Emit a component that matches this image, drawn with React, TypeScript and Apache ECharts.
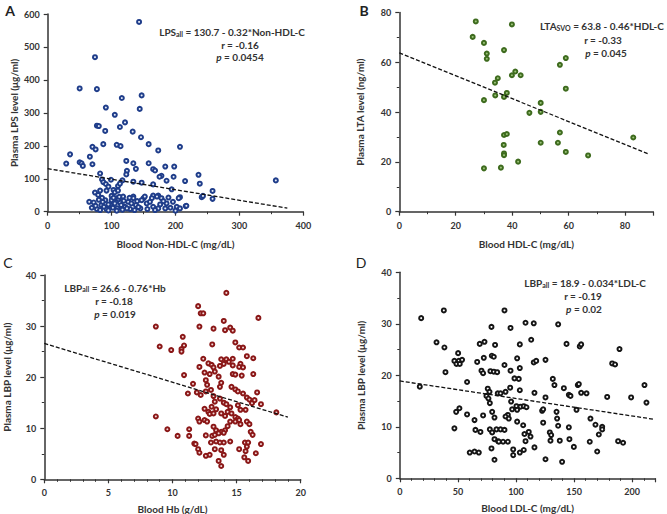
import React, { useEffect, useRef } from "react";
import * as echarts from "echarts";

// Panel A: Blood Non-HDL-C (mg/dL) vs Plasma LPS (µg/ml)
const lpsNonHdl: number[][] = [
  [143,576],[74,469],[50,374],[77,372],[116,345],[147,353],[91,316],[144,312],[105,294],[121,271],
  [77,261],[80,260],[113,257],[90,245],[133,243],[146,226],[108,203],[114,199],[87,205],[70,197],
  [75,189],[66,167],[158,205],[173,186],[207,197],[35,174],[29,146],[50,150],[53,147],[55,139],
  [70,144],[123,154],[134,147],[138,130],[158,147],[82,116],[165,129],[168,125],[184,137],[198,137],
  [124,124],[123,113],[178,109],[175,106],[197,106],[215,93],[236,112],[238,85],[186,94],[165,83],
  [147,88],[134,91],[117,95],[85,98],[87,90],[91,84],[95,76],[110,78],[82,64],[92,64],
  [103,66],[105,59],[110,64],[194,68],[173,49],[165,49],[150,41],[134,46],[74,58],[79,51],
  [258,63],[241,44],[243,48],[258,39],[207,44],[216,17],[357,95],[99,97],[113,85],
  [65,30],[69,12],[77,8],[84,20],[90,35],[92,8],[98,20],[107,41],[109,10],[113,28],
  [118,46],[121,15],[126,30],[129,8],[134,41],[138,20],[145,10],[147,35],[152,46],[155,25],
  [163,41],[165,15],[171,46],[173,10],[178,41],[184,10],[186,25],[189,43],[202,15],[205,41],
  [207,10],[217,18],[72,28],[75,18],[82,5],[86,30],[88,15],[95,4],[100,35],[102,12],
  [105,25],[108,3],[111,38],[115,20],[117,6],[119,33],[124,10],[128,42],[131,25],[136,5],
  [140,32],[142,14],[100,48],[95,22],[160,30],[168,5],[176,22],[181,32],[192,12],[196,30],
  [200,3],[156,8],[112,45],[103,42],[85,42],[80,36]
];

// Panel B: Blood HDL-C (mg/dL) vs Plasma LTA (ng/ml)
const ltaHdl: number[][] = [
  [27.1,76.4],[26.0,70.2],[30.0,67.8],[31.0,63.5],[31.0,61.4],[34.9,53.6],[33.9,51.8],[34.0,46.7],
  [30.0,44.8],[30.0,17.4],[36.0,17.7],[39.9,75.2],[37.1,64.9],[56.9,59.0],[59.0,61.7],[59.0,49.4],
  [39.9,54.8],[41.1,56.3],[43.0,54.8],[38.1,47.7],[37.1,46.1],[50.1,43.7],[50.1,40.1],[46.1,39.7],
  [56.9,31.8],[56.2,27.7],[50.1,27.7],[37.1,30.8],[38.1,31.2],[37.0,26.8],[37.1,23.4],[37.1,22.7],
  [42.1,20.1],[59.0,24.0],[66.9,22.6],[82.9,29.8]
];

// Panel C: Blood Hb (g/dL) vs Plasma LBP (µg/ml)
const lbpHb: number[][] = [
  [8.7,29.9],[9.0,26.0],[9.9,25.3],[10.8,27.9],[10.9,26.2],[10.7,25.5],[10.7,25.0],[10.9,20.4],
  [11.6,18.7],[11.2,16.8],[8.7,12.3],[9.6,9.8],[10.4,8.5],[11.3,9.8],[11.3,8.5],
  [14.2,36.5],[12.0,33.9],[12.2,32.5],[12.4,32.5],[16.7,31.6],[12.1,29.9],[14.0,31.0],[13.2,29.5],
  [14.1,29.2],[14.5,29.7],[14.7,29.1],[13.1,26.4],[14.9,26.8],[15.2,25.8],[15.5,25.8],[15.8,24.1],
  [16.3,23.7],[12.4,23.6],[13.8,23.5],[14.2,23.5],[14.7,23.6],[14.4,23.0],[12.8,22.7],[13.05,22.4],
  [13.2,21.9],[12.1,22.0],[13.7,22.2],[14.0,22.6],[14.7,22.3],[15.3,22.6],[15.2,22.0],[15.5,21.9],
  [12.5,20.9],[12.9,20.6],[13.3,21.1],[16.3,20.6],[14.7,20.6],[14.9,20.5],[15.4,20.3],[12.6,19.4],
  [12.7,18.5],[13.6,20.1],[13.7,18.1],[13.8,18.9],[11.9,17.0],[12.2,16.5],[12.6,17.2],[13.0,17.5],
  [13.2,16.3],[14.6,18.1],[14.9,17.6],[15.1,17.2],[15.5,16.8],[15.8,16.0],[16.0,15.6],[16.2,14.9],
  [16.6,17.0],[16.9,14.7],[16.4,15.5],[13.3,15.2],[13.7,15.8],[14.0,15.0],[13.05,14.2],[13.4,13.7],
  [14.2,14.7],[14.5,14.1],[15.1,14.5],[15.3,13.6],[15.7,13.6],[12.5,13.8],[12.8,13.2],[12.9,12.8],
  [13.2,12.9],[13.8,12.9],[14.1,12.4],[14.3,13.2],[14.6,12.9],[14.9,12.2],[15.1,11.9],[12.0,11.9],
  [12.1,11.3],[12.5,11.6],[12.7,11.3],[13.2,10.3],[13.4,9.6],[13.6,9.1],[13.8,9.3],[14.1,9.6],
  [13.1,8.5],[13.3,8.7],[13.6,9.0],[14.0,9.1],[14.3,10.4],[14.5,11.3],[14.9,11.3],[15.2,11.6],
  [15.3,10.8],[15.8,11.3],[16.0,10.8],[12.6,8.6],[13.4,7.4],[13.7,7.2],[14.0,7.2],[14.5,7.4],
  [13.0,7.2],[15.65,7.2],[15.8,6.4],[15.9,7.2],[16.1,9.3],[16.25,8.7],[16.9,6.9],[11.7,7.0],
  [11.8,6.9],[12.0,5.9],[12.1,5.2],[12.6,4.6],[12.9,4.8],[13.3,5.9],[13.8,5.7],[14.0,4.8],
  [15.2,5.9],[15.7,5.5],[15.6,4.3],[15.9,3.6],[16.5,5.1],[13.6,3.6],[13.8,2.6],[18.1,13.1]
];

// Panel D: Blood LDL-C (mg/dL) vs Plasma LBP (µg/ml)
const lbpLdl: number[][] = [
  [18.4,31.1],[17.2,17.8],[37.9,32.6],[31.6,26.4],[38.4,25.4],[39.3,20.6],[50.2,24.3],[47.0,22.8],
  [50.8,22.8],[53.6,23.0],[48.8,22.2],[51.6,22.2],[57.9,18.7],[68.8,26.1],[72.9,26.5],[66.6,22.6],
  [72.3,23.4],[78.9,29.4],[79.2,23.8],[80.9,23.6],[82.0,25.9],[70.3,20.9],[71.7,20.4],[78.0,20.8],
  [80.9,20.7],[83.8,20.6],[75.7,17.4],[77.2,16.8],[74.6,16.0],[76.3,15.5],[77.5,14.6],[84.3,16.5],
  [48.5,12.9],[51.3,13.6],[57.9,12.4],[64.3,11.3],[71.7,12.2],[79.5,12.9],[81.5,11.8],[47.0,9.7],
  [65.1,9.4],[69.4,9.0],[77.5,9.5],[79.5,8.9],[83.2,9.5],[81.5,7.6],[84.6,7.2],[78.9,5.8],
  [60.2,5.0],[64.3,5.2],[68.0,5.0],[81.5,3.6],
  [90.1,32.6],[108.2,30.2],[115.3,30.1],[95.3,29.2],[136.3,29.9],[113.1,26.9],[103.3,26.0],[143.5,26.1],
  [154.9,25.6],[156.1,26.0],[189.1,25.1],[101.0,23.3],[125.4,23.0],[115.3,22.5],[117.4,22.8],[90.1,22.0],
  [103.3,21.4],[95.3,20.9],[98.7,19.4],[102.4,19.3],[182.8,22.3],[185.3,22.1],[131.7,19.3],[133.1,18.1],
  [141.2,17.5],[145.5,16.2],[146.9,16.0],[153.2,18.1],[154.1,18.3],[156.1,16.6],[160.7,16.5],[178.5,15.8],
  [199.1,15.7],[210.6,18.1],[212.3,14.7],[91.0,16.8],[86.7,16.5],[95.0,17.6],[103.3,17.1],[115.9,16.6],
  [125.4,15.7],[95.8,14.9],[100.4,14.0],[103.9,13.9],[106.7,14.0],[109.0,13.8],[96.7,13.4],[101.0,13.3],
  [93.0,12.3],[91.0,12.0],[93.8,11.6],[122.5,13.1],[123.4,13.4],[134.9,12.9],[152.1,13.3],[164.1,11.6],
  [101.0,11.0],[106.2,10.3],[123.4,10.8],[135.4,11.6],[136.3,10.2],[168.4,10.4],[174.2,10.0],[174.2,9.5],
  [86.7,9.5],[90.1,9.4],[107.3,8.6],[111.0,9.0],[112.5,8.1],[129.1,8.9],[130.3,8.4],[145.5,9.9],
  [171.3,8.5],[85.2,7.1],[88.9,7.1],[93.0,7.1],[108.2,7.2],[115.9,6.0],[129.7,7.3],[137.7,7.3],
  [146.0,7.6],[149.8,6.1],[163.5,7.1],[187.9,7.2],[192.2,6.9],[169.9,5.2],[97.6,5.6],[97.6,4.5],
  [103.3,5.0],[106.7,5.5],[125.4,3.7],[139.7,3.2]
];

// Regression lines: [intercept, slope, x end of drawn line]
const fitA = [130.7, -0.32, 375];
const fitB = [63.8, -0.46, 88];
const fitC = [26.6, -0.76, 19];
const fitD = [18.9, -0.034, 218];

// Axis ranges: [min, max, interval, minor splits]
const xRangeA = [0, 400, 100, 2];
const yRangeA = [0, 600, 100, 0];
const xRangeB = [0, 90, 20, 2];
const yRangeB = [0, 80, 20, 2];
const xRangeC = [0, 20, 5, 5];
const yRangeC = [0, 40, 10, 2];
const xRangeD = [0, 220, 50, 5];
const yRangeD = [0, 40, 10, 2];

const xTitles = ["Blood Non-HDL-C (mg/dL)", "Blood HDL-C (mg/dL)", "Blood Hb (g/dL)", "Blood LDL-C (mg/dL)"];
const yTitles = ["Plasma LPS level (\u03bcg/ml)", "Plasma LTA level (ng/ml)", "Plasma LBP level (\u03bcg/ml)", "Plasma LBP level (\u03bcg/ml)"];

const FONT = 'Lato, "Liberation Sans", sans-serif';
const AX = "#333333";
const TXT = "#333333";

const grids = [
  { left: 47.7, top: 14, width: 255.6, height: 197.7 },
  { left: 399.3, top: 12.5, width: 254, height: 199.2 },
  { left: 44.3, top: 275, width: 256.4, height: 204.3 },
  { left: 399.8, top: 272.3, width: 255.6, height: 206 },
];

function axis(gi: number, r: number[], name: string, isY: boolean, gap: number) {
  return {
    type: "value",
    gridIndex: gi,
    min: r[0],
    max: r[1],
    interval: r[2],
    name,
    nameLocation: "middle",
    nameGap: gap,
    nameTextStyle: { fontFamily: FONT, fontWeight: "bold", fontSize: 10, color: TXT },
    axisLine: { show: true, onZero: false, lineStyle: { color: AX, width: 1.5 } },
    axisTick: { show: true, length: 4, lineStyle: { color: AX, width: 1.2 } },
    minorTick: { show: r[3] > 0, splitNumber: r[3] || 5, length: 2.5, lineStyle: { color: AX, width: 1 } },
    splitLine: { show: false },
    minorSplitLine: { show: false },
    axisLabel: {
      fontFamily: FONT, fontWeight: "bold", fontSize: 9, color: TXT,
      margin: isY ? 8 : 9, showMaxLabel: (r[1] / r[2]) % 1 === 0,
    },
  };
}

function fitLine(f: number[]) {
  return [[0, f[0]], [f[2], f[0] + f[1] * f[2]]];
}

const txtBase = { fontFamily: FONT, fontWeight: "bold", fontSize: 10, fill: TXT, color: TXT };
const subBase = { fontFamily: FONT, fontWeight: "bold", fontSize: 7, fill: TXT, color: TXT, verticalAlign: "bottom" };
const itBase = { fontFamily: FONT, fontWeight: "bold", fontStyle: "italic", fontSize: 10, fill: TXT, color: TXT };

function rt(text: string, x: number, y: number) {
  return {
    type: "text", x, y, silent: true,
    style: {
      text, textAlign: "center", textVerticalAlign: "middle",
      rich: { m: txtBase, s: subBase, i: itBase },
      ...txtBase,
    },
  };
}

function letter(t: string, x: number, y: number, bold: boolean) {
  return {
    type: "text", x, y, silent: true,
    style: { text: t, textAlign: "center", textVerticalAlign: "middle", fontFamily: FONT, fontWeight: bold ? "bold" : "normal", fontSize: 14, fill: "#222" },
  };
}

export default function App() {
  const ref = useRef<HTMLDivElement>(null);
  useEffect(() => {
    if (!ref.current) return;
    const chart = echarts.init(ref.current, undefined, { renderer: "svg" });
    const scat = (i: number, data: number[][], border: string, fill: string) => ({
      type: "scatter", xAxisIndex: i, yAxisIndex: i, data, symbol: "circle", symbolSize: 4,
      itemStyle: { color: fill, borderColor: border, borderWidth: 2, opacity: 1 },
      z: 2,
    });
    const ln = (i: number, f: number[]) => ({
      type: "line", xAxisIndex: i, yAxisIndex: i, data: fitLine(f), symbol: "none",
      lineStyle: { color: "#111", width: 1.3, type: [4, 2] }, z: 3,
    });
    chart.setOption({
      animation: false,
      backgroundColor: "#ffffff",
      grid: grids.map((g) => ({ ...g, containLabel: false, outerBoundsMode: "none" })),
      xAxis: [
        axis(0, xRangeA, xTitles[0], false, 27),
        axis(1, xRangeB, xTitles[1], false, 27),
        axis(2, xRangeC, xTitles[2], false, 25),
        axis(3, xRangeD, xTitles[3], false, 25),
      ],
      yAxis: [
        axis(0, yRangeA, yTitles[0], true, 29),
        axis(1, yRangeB, yTitles[1], true, 34),
        axis(2, yRangeC, yTitles[2], true, 32),
        axis(3, yRangeD, yTitles[3], true, 34),
      ],
      series: [
        scat(0, lpsNonHdl, "#1f3d8a", "#e6ecf8"),
        ln(0, fitA),
        scat(1, ltaHdl, "#3e6b1e", "#9cc47a"),
        ln(1, fitB),
        scat(2, lbpHb, "#8a1717", "#f2d6d6"),
        ln(2, fitC),
        scat(3, lbpLdl, "#151515", "#ffffff"),
        ln(3, fitD),
      ],
      graphic: [
        letter("A", 10, 10, true),
        letter("B", 364, 10, true),
        letter("C", 8, 262, false),
        letter("D", 361, 262, false),
        rt("{m|LPS}{s|all}{m| = 130.7 - 0.32*Non-HDL-C}", 232, 32),
        rt("{m|r = -0.16}", 240, 44.5),
        rt("{i|p}{m| = 0.0454}", 240, 57),
        rt("{m|LTA}{s|SVO}{m| = 63.8 - 0.46*HDL-C}", 602, 26),
        rt("{m|r = -0.33}", 603, 40),
        rt("{i|p}{m| = 0.045}", 606, 52.5),
        rt("{m|LBP}{s|all}{m| = 26.6 - 0.76*Hb}", 115, 287.5),
        rt("{m|r = -0.18}", 114, 301),
        rt("{i|p}{m| = 0.019}", 115, 313.5),
        rt("{m|LBP}{s|all}{m| = 18.9 - 0.034*LDL-C}", 585, 283),
        rt("{m|r = -0.19}", 583, 296),
        rt("{i|p}{m| = 0.02}", 584, 309),
      ],
    });
    return () => chart.dispose();
  }, []);
  return (
    <div
      ref={ref}
      style={{ position: "fixed", left: 0, top: 0, width: 667, height: 514, background: "#fff" }}
    />
  );
}
